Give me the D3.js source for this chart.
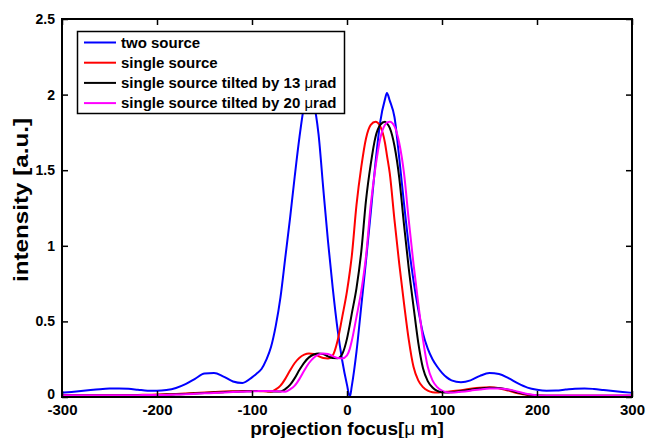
<!DOCTYPE html>
<html>
<head>
<meta charset="utf-8">
<script src="https://cdn.jsdelivr.net/npm/d3@7"></script>
<style>
  body { margin: 0; background: #fff; }
  svg { display: block; font-family: "Liberation Sans", Arial, sans-serif; }
</style>
</head>
<body>
<svg id="svg"></svg>
<script>
var width = 647;
var height = 438;

// x positions (projection focus, um)
var xs = [-300,-290,-280,-270,-260,-250,-240,-230,-220,-210,-200,-190,-180,-170,-160,-150,-140,-130,-120,-110,
  -100,-95,-90,-85,-80,-75,-70,-65,-60,-55,-50,-45,-40,-35,-30,-25,-20,-15,-10,-5,0,3,
  5,10,15,20,25,30,35,40,42,45,50,55,60,65,70,75,80,85,90,95,100,105,110,
  120,130,140,150,160,170,180,190,200,210,220,230,240,250,260,270,280,290,300];

// intensity
var twoSource = [.028,.033,.039,.046,.052,.056,.057,.054,.048,.042,.041,.046,.060,.085,.120,.155,.158,.135,.103,.093,
  .130,.155,.185,.245,.330,.470,.660,.920,1.180,1.460,1.720,1.930,2.000,1.940,1.740,1.380,1.030,.720,.450,.240,.080,.000,
  .070,.300,.600,.900,1.220,1.550,1.820,1.970,2.010,1.960,1.850,1.580,1.280,1.000,.770,.580,.420,.320,.250,.200,.160,.130,.110,
  .098,.110,.140,.158,.152,.125,.090,.062,.048,.042,.043,.049,.055,.057,.053,.046,.039,.033,.028];

var singleSource = [.012,.012,.012,.012,.012,.012,.012,.013,.014,.015,.016,.018,.020,.023,.026,.030,.033,.036,.038,.039,
  .040,.040,.038,.036,.035,.050,.075,.120,.175,.225,.260,.280,.288,.285,.270,.258,.255,.275,.370,.530,.700,.830,
  .930,1.270,1.520,1.710,1.800,1.820,1.790,1.680,1.600,1.480,1.170,.880,.620,.380,.200,.110,.065,.042,.032,.030,.032,.034,.038,
  .045,.055,.062,.064,.058,.042,.024,.013,.010,.009,.009,.009,.009,.009,.009,.009,.009,.009,.009];

var tilted13 = [.011,.011,.011,.011,.011,.011,.011,.012,.012,.013,.014,.016,.018,.020,.023,.026,.029,.032,.035,.037,
  .038,.040,.040,.039,.038,.036,.036,.052,.080,.125,.180,.228,.262,.281,.288,.284,.269,.258,.257,.285,.386,.480,
  .550,.720,.960,1.300,1.540,1.720,1.800,1.820,1.810,1.780,1.660,1.450,1.140,.850,.600,.360,.190,.105,.063,.041,.032,.030,.032,
  .040,.048,.056,.062,.060,.048,.030,.016,.010,.009,.009,.009,.009,.009,.009,.009,.009,.009,.009];

var tilted20 = [.012,.012,.012,.012,.012,.012,.012,.012,.012,.013,.013,.014,.016,.018,.021,.024,.027,.030,.033,.035,
  .037,.038,.040,.040,.040,.038,.036,.035,.050,.075,.120,.175,.225,.260,.280,.288,.285,.270,.258,.255,.275,.320,
  .370,.530,.700,.930,1.270,1.520,1.710,1.800,1.815,1.820,1.790,1.680,1.480,1.170,.880,.620,.380,.200,.110,.065,.042,.032,.030,
  .035,.042,.050,.056,.057,.050,.035,.020,.012,.010,.010,.010,.010,.010,.010,.010,.010,.010,.010];

var xTicks = [-300,-200,-100,0,100,200,300];
var yTicks = [0,0.5,1,1.5,2,2.5];

var series = [
  {name: "two source", color: "#0000ff", values: twoSource},
  {name: "single source", color: "#ff0000", values: singleSource},
  {name: "single source tilted by 13 ", unit: true, color: "#000000", values: tilted13},
  {name: "single source tilted by 20 ", unit: true, color: "#ff00ff", values: tilted20}
];

// plot box in pixels
var plotL = 62, plotR = 632, plotT = 19, plotB = 397;

var svg = d3.select("#svg")
    .attr("width", width)
    .attr("height", height)
    .attr("viewBox", [0, 0, width, height]);

var x = d3.scaleLinear().domain([-300, 300]).range([plotL, plotR]);
var y = d3.scaleLinear().domain([0, 2.5]).range([plotB, plotT]);

svg.append("defs").append("clipPath").attr("id", "clip")
  .append("rect")
    .attr("x", plotL).attr("y", plotT)
    .attr("width", plotR - plotL).attr("height", plotB - plotT);

var line = d3.line()
    .x((d, i) => x(xs[i]))
    .y(d => y(d))
    .curve(d3.curveMonotoneX);

svg.append("g")
    .attr("clip-path", "url(#clip)")
  .selectAll("path")
  .data(series)
  .join("path")
    .attr("fill", "none")
    .attr("stroke", d => d.color)
    .attr("stroke-width", 2)
    .attr("stroke-linejoin", "round")
    .attr("d", d => line(d.values));

// matlab style labels: plain hyphen, no trailing zeros
var fmt = d => String(d);

// axes, ticks pointing inward
var gx = svg.append("g")
    .attr("transform", `translate(0,${plotB})`)
    .call(d3.axisBottom(x).tickValues(xTicks).tickSizeInner(-6).tickSizeOuter(0).tickPadding(7).tickFormat(fmt));
gx.selectAll("text").attr("font-size", 15).attr("font-weight", "bold").attr("fill", "#000");

svg.append("g")
    .attr("transform", `translate(0,${plotT})`)
    .call(d3.axisTop(x).tickValues(xTicks).tickSizeInner(-6).tickSizeOuter(0).tickFormat(""));

var gy = svg.append("g")
    .attr("transform", `translate(${plotL},0)`)
    .call(d3.axisLeft(y).tickValues(yTicks).tickSizeInner(-6).tickSizeOuter(0).tickPadding(7).tickFormat(fmt));
gy.selectAll("text").attr("font-size", 14).attr("font-weight", "bold").attr("fill", "#000");
// the "0" sits right on the corner, lift it a bit off the -300
gy.selectAll("text").filter(d => d === 0).attr("dy", "0.1em");

svg.append("g")
    .attr("transform", `translate(${plotR},0)`)
    .call(d3.axisRight(y).tickValues(yTicks).tickSizeInner(-6).tickSizeOuter(0).tickFormat(""));

svg.selectAll(".domain").remove();
svg.selectAll(".tick line").attr("stroke", "#000").attr("stroke-width", 1.5);

svg.append("rect")
    .attr("x", plotL).attr("y", plotT)
    .attr("width", plotR - plotL).attr("height", plotB - plotT)
    .attr("fill", "none")
    .attr("stroke", "#000")
    .attr("stroke-width", 2);

// axis titles
var xl = svg.append("text")
    .attr("x", (plotL + plotR) / 2)
    .attr("y", 435)
    .attr("text-anchor", "middle")
    .attr("font-size", 19)
    .attr("font-weight", "bold");
xl.append("tspan").text("projection focus[");
xl.append("tspan").attr("font-weight", "normal").text("\u03bc");
xl.append("tspan").text(" m]");

svg.append("text")
    .attr("transform", "translate(28,200) rotate(-90)")
    .attr("text-anchor", "middle")
    .attr("font-size", 20)
    .attr("font-weight", "bold")
    .attr("textLength", 164)
    .attr("lengthAdjust", "spacingAndGlyphs")
    .text("intensity [a.u.]");

// legend
var legend = svg.append("g");
legend.append("rect")
    .attr("x", 77.5).attr("y", 31.5)
    .attr("width", 267).attr("height", 82)
    .attr("fill", "#fff")
    .attr("stroke", "#000")
    .attr("stroke-width", 1.5);

var row = legend.selectAll("g.row")
  .data(series)
  .join("g")
    .attr("class", "row")
    .attr("transform", (d, i) => `translate(0,${42.5 + i * 20.2})`);

row.append("line")
    .attr("x1", 84).attr("x2", 116)
    .attr("stroke", d => d.color)
    .attr("stroke-width", 2);

var lt = row.append("text")
    .attr("x", 121)
    .attr("y", 5)
    .attr("font-size", 15)
    .attr("font-weight", "bold");
lt.append("tspan").text(d => d.name);
lt.filter(d => d.unit).append("tspan").attr("font-weight", "normal").text("\u03bc");
lt.filter(d => d.unit).append("tspan").text("rad");
</script>
</body>
</html>
